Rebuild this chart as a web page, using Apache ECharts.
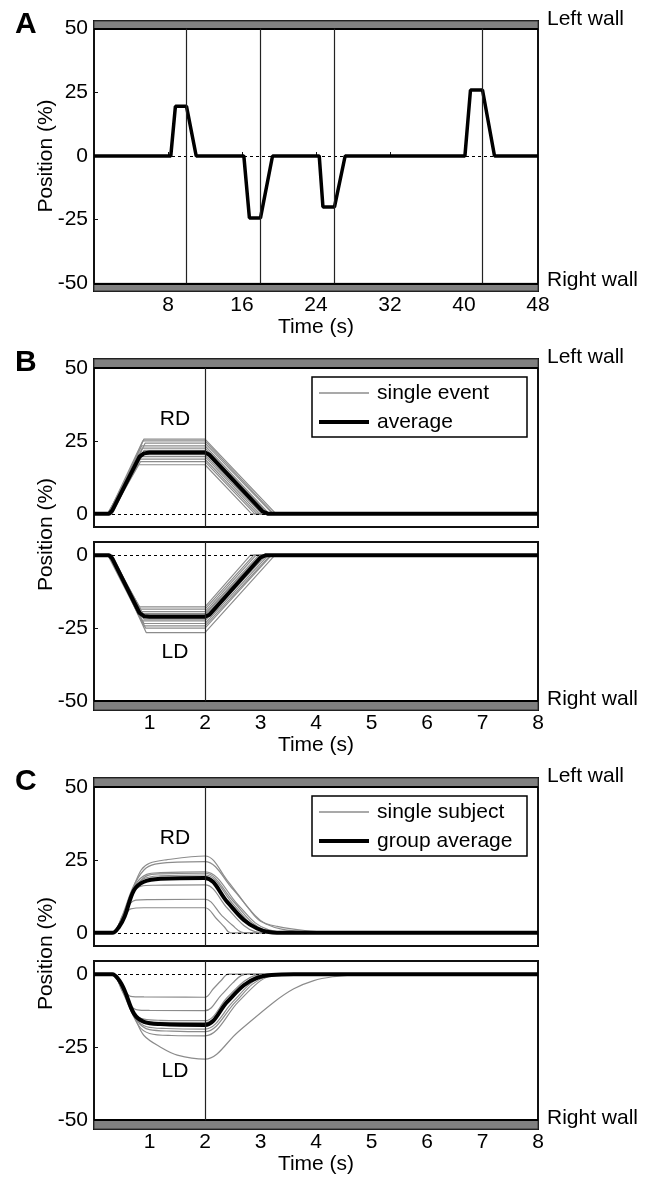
<!DOCTYPE html>
<html>
<head>
<meta charset="utf-8">
<script src="https://cdn.jsdelivr.net/npm/echarts@6.0.0/dist/echarts.min.js"></script>
<style>
html,body{margin:0;padding:0;background:#fff;}
#main{width:654px;height:1177px;}
</style>
</head>
<body>
<div id="main"></div>
<script>
// ---- data ----
// panel A: one trial, position trace
const timeA = [0, 8.3, 8.8, 10, 11.05, 16.2, 16.8, 18, 19.3, 24.35, 24.75, 26, 27.15, 40.1, 40.7, 42, 43.3, 48];
const posA  = [0, 0, 19.5, 19.5, 0, 0, -24.3, -24.3, 0, 0, -20, -20, 0, 0, 25.9, 25.9, 0, 0];
const eventsA = [10, 18, 26, 42];
const xTicksA = [8, 16, 24, 32, 40, 48];
const xTicksBC = [1, 2, 3, 4, 5, 6, 7, 8];
const yTicksFull = [-50, -25, 0, 25, 50];
const yTicksUp = [0, 25, 50];
const yTicksDown = [-50, -25, 0];
const cueTime = 2;

// panel B: single events + average
const rdSingleB = [
  [[0,0],[0.30,0],[0.90,25.6],[2,25.6],[3.28,0],[8,0]],
  [[0,0],[0.26,0],[0.88,25.0],[2,25.0],[3.24,0],[8,0]],
  [[0,0],[0.32,0],[0.92,24.2],[2,24.2],[3.22,0],[8,0]],
  [[0,0],[0.28,0],[0.86,23.3],[2,23.3],[3.16,0],[8,0]],
  [[0,0],[0.25,0],[0.87,22.5],[2,22.5],[3.14,0],[8,0]],
  [[0,0],[0.33,0],[0.90,21.7],[2,21.7],[3.10,0],[8,0]],
  [[0,0],[0.29,0],[0.88,21.0],[2,21.0],[3.06,0],[8,0]],
  [[0,0],[0.27,0],[0.85,20.3],[2,20.3],[3.02,0],[8,0]],
  [[0,0],[0.31,0],[0.86,19.6],[2,19.6],[2.98,0],[8,0]],
  [[0,0],[0.24,0],[0.82,18.7],[2,18.7],[2.94,0],[8,0]],
  [[0,0],[0.30,0],[0.84,17.9],[2,17.9],[2.90,0],[8,0]],
  [[0,0],[0.28,0],[0.80,16.8],[2,16.8],[2.84,0],[8,0]]
];
const rdAvgB = [[0,0],[0.27,0],[0.33,1.2],[0.82,19.6],[0.9,20.7],[1.0,21],[2,21],[2.08,20.2],[3.04,0.8],[3.14,0],[8,0]];
const ldSingleB = [
  [[0,0],[0.28,0],[0.82,-17.7],[2,-17.7],[2.82,0],[8,0]],
  [[0,0],[0.30,0],[0.84,-18.5],[2,-18.5],[2.88,0],[8,0]],
  [[0,0],[0.26,0],[0.84,-19.3],[2,-19.3],[2.92,0],[8,0]],
  [[0,0],[0.31,0],[0.88,-20.0],[2,-20.0],[2.97,0],[8,0]],
  [[0,0],[0.27,0],[0.86,-20.4],[2,-20.4],[3.00,0],[8,0]],
  [[0,0],[0.29,0],[0.88,-21.0],[2,-21.0],[3.04,0],[8,0]],
  [[0,0],[0.33,0],[0.90,-21.9],[2,-21.9],[3.06,0],[8,0]],
  [[0,0],[0.25,0],[0.86,-22.5],[2,-22.5],[3.10,0],[8,0]],
  [[0,0],[0.30,0],[0.90,-23.4],[2,-23.4],[3.14,0],[8,0]],
  [[0,0],[0.28,0],[0.90,-24.2],[2,-24.2],[3.18,0],[8,0]],
  [[0,0],[0.32,0],[0.93,-25.0],[2,-25.0],[3.20,0],[8,0]],
  [[0,0],[0.30,0],[0.94,-26.5],[2,-26.5],[3.26,0],[8,0]]
];
const ldAvgB = [[0,0],[0.27,0],[0.33,-1.2],[0.82,-19.8],[0.9,-20.9],[1.0,-21.1],[2,-21.1],[2.08,-20.4],[3.0,-0.8],[3.1,0],[8,0]];

// panel C: single subjects + group average
const rdSingleC = [
  [[0,0],[0.33,0],[0.45,2.5],[0.58,6.5],[0.66,8.2],[0.9,8.6],[2,8.6],[2.2,5],[2.35,2],[2.46,0],[8,0]],
  [[0,0],[0.33,0],[0.5,5],[0.65,10],[0.75,11.2],[1.0,11.4],[2,11.5],[2.3,6],[2.5,2.5],[2.65,0.3],[2.8,0],[8,0]],
  [[0,0],[0.33,0],[0.5,5],[0.7,13.5],[0.85,16],[1.1,16.3],[2,16.4],[2.4,8.5],[2.7,2.5],[2.9,0.4],[3.1,0],[8,0]],
  [[0,0],[0.33,0],[0.5,5],[0.7,14.5],[0.9,18.5],[1.2,19.5],[2,19.8],[2.5,10],[2.8,3.5],[3.0,1],[3.3,0],[8,0]],
  [[0,0],[0.33,0],[0.5,4.5],[0.75,15.5],[0.95,19.5],[1.2,20.2],[2,20.4],[2.5,11],[2.85,3.5],[3.1,0.8],[3.4,0],[8,0]],
  [[0,0],[0.33,0],[0.5,5],[0.75,16.5],[0.95,20],[1.2,20.6],[2,20.9],[2.6,9.5],[2.9,3.5],[3.15,1],[3.5,0],[8,0]],
  [[0,0],[0.33,0],[0.5,5.5],[0.7,15.5],[0.9,21.5],[1.1,23.5],[1.5,24.2],[2,24.4],[2.5,15],[2.9,6],[3.1,3],[3.4,1.2],[3.9,0.3],[4.3,0],[8,0]],
  [[0,0],[0.33,0],[0.5,5],[0.7,15],[0.85,21.5],[1.0,23.8],[1.3,25],[2,26.3],[2.4,18],[2.8,8],[3.0,4],[3.3,2.2],[3.8,0.8],[4.4,0.1],[4.7,0],[8,0]]
];
const rdAvgC = [[0,0],[0.33,0],[0.45,2],[0.55,5.5],[0.72,14.6],[0.9,17.5],[1.2,18.5],[2,18.8],[2.4,10.6],[2.7,4.4],[2.94,1.5],[3.15,0.3],[3.5,0],[8,0]];
const ldSingleC = [
  [[0,0],[0.33,0],[0.45,-2.5],[0.57,-6],[0.66,-7.6],[0.9,-7.8],[2,-7.9],[2.15,-5],[2.3,-2],[2.42,0],[8,0]],
  [[0,0],[0.33,0],[0.5,-5],[0.65,-10.5],[0.78,-12.2],[1.0,-12.4],[2,-12.5],[2.3,-7],[2.5,-3],[2.65,-0.5],[2.8,0],[8,0]],
  [[0,0],[0.33,0],[0.5,-5],[0.72,-13.5],[0.9,-15.4],[1.2,-15.8],[2,-15.9],[2.4,-8],[2.7,-2.5],[2.9,-0.4],[3.1,0],[8,0]],
  [[0,0],[0.33,0],[0.5,-5],[0.74,-14.5],[0.92,-16.2],[1.2,-16.5],[2,-16.6],[2.45,-8],[2.75,-2.8],[2.95,-0.6],[3.2,0],[8,0]],
  [[0,0],[0.33,0],[0.5,-5],[0.75,-15],[0.95,-18],[1.3,-18.6],[2,-18.8],[2.5,-9.5],[2.8,-3.5],[3.0,-1],[3.3,0],[8,0]],
  [[0,0],[0.33,0],[0.5,-5],[0.78,-16],[1.0,-19],[1.4,-19.5],[2,-19.7],[2.55,-9.5],[2.85,-3.5],[3.1,-0.8],[3.4,0],[8,0]],
  [[0,0],[0.33,0],[0.5,-5.5],[0.8,-17.5],[1.0,-20.3],[1.4,-21],[2,-21.1],[2.6,-9.5],[2.95,-3],[3.15,-0.8],[3.5,0],[8,0]],
  [[0,0],[0.33,0],[0.5,-5],[0.75,-15.5],[0.9,-21],[1.2,-25],[1.5,-27.7],[2,-29.1],[2.6,-19.7],[3.24,-9.6],[3.6,-5],[3.96,-2.2],[4.3,-0.9],[4.7,-0.2],[5,0],[8,0]]
];
const ldAvgC = [[0,0],[0.33,0],[0.45,-2],[0.55,-5.5],[0.72,-13.5],[0.9,-16.3],[1.2,-17.1],[2,-17.4],[2.4,-9.5],[2.7,-3.8],[2.95,-1.2],[3.2,-0.3],[3.6,0],[8,0]];

// ---- style / layout ----
const FONT = 'Liberation Sans, Arial, sans-serif';
const FS = 21;
const GRAY = '#8c8c8c';
const INK = '#111';
const WALL = 3; // wall thickness, in axis units

const L = 94, W = 444;
const grids = [
  {top: 21, height: 270},   // A
  {top: 359, height: 168},  // B RD
  {top: 542, height: 168},  // B LD
  {top: 778, height: 168},  // C RD
  {top: 961, height: 168}   // C LD
];
const yRanges = [[-50 - WALL, 50 + WALL], [-4.5, 50 + WALL], [-50 - WALL, 4.5], [-4.5, 50 + WALL], [-50 - WALL, 4.5]];
const yLabels = [yTicksFull, yTicksUp, yTicksDown, yTicksUp, yTicksDown];

function pxPerUnit(i) { return grids[i].height / (yRanges[i][1] - yRanges[i][0]); }

function makeX(i, max, labels, ticks) {
  const bottom = labels !== null;
  return {
    type: 'value', gridIndex: i, min: 0, max: max,
    offset: bottom ? -WALL * pxPerUnit(i) : 0,
    axisLine: {show: false},
    splitLine: {show: false},
    axisTick: {show: !!ticks, inside: true, length: 4, customValues: ticks || [], lineStyle: {color: INK}},
    axisLabel: {show: bottom, customValues: labels || [], margin: 11, color: '#000', fontSize: FS, fontFamily: FONT},
    name: bottom ? 'Time (s)' : '', nameLocation: 'middle', nameGap: 33,
    nameTextStyle: {color: '#000', fontSize: FS, fontFamily: FONT}
  };
}
function makeY(i) {
  return {
    type: 'value', gridIndex: i, min: yRanges[i][0], max: yRanges[i][1],
    axisLine: {show: false},
    splitLine: {show: false},
    axisTick: {show: true, inside: true, length: 4, customValues: yLabels[i], lineStyle: {color: INK}},
    axisLabel: {customValues: yLabels[i], margin: 6, color: '#000', fontSize: FS, fontFamily: FONT}
  };
}

// walls, edge lines, zero line and cue lines for one sub-plot
function markers(walls, edges, vTimes, vFrom, vTo) {
  const lines = [{yAxis: 0, lineStyle: {type: [3, 3], width: 1, color: '#000'}}];
  edges.forEach(v => lines.push({yAxis: v, lineStyle: {type: 'solid', width: 2, color: '#000'}}));
  vTimes.forEach(t => lines.push([{coord: [t, vFrom], lineStyle: {type: 'solid', width: 1.2, color: '#222'}}, {coord: [t, vTo]}]));
  return {
    markLine: {silent: true, symbol: 'none', animation: false, label: {show: false},
      lineStyle: {type: 'solid', color: '#000', width: 1}, emphasis: {disabled: true}, data: lines},
    markArea: {silent: true, animation: false,
      itemStyle: {color: '#808080', borderColor: '#333', borderWidth: 1},
      data: walls.map(r => [{yAxis: r[0]}, {yAxis: r[1]}])}
  };
}

const series = [];
function grayLines(list, gi, name) {
  list.forEach(d => series.push({
    name: name, type: 'line', xAxisIndex: gi, yAxisIndex: gi, data: d,
    symbol: 'none', silent: true, smooth: gi >= 3 ? 0.35 : false,
    lineStyle: {color: GRAY, width: 1.2}, z: 2
  }));
}
function avgLine(d, gi, name, mk) {
  series.push(Object.assign({
    name: name, type: 'line', xAxisIndex: gi, yAxisIndex: gi, data: d,
    symbol: 'none', silent: true, smooth: gi >= 3 ? 0.35 : false,
    lineStyle: {color: '#000', width: 4}, z: 3
  }, mk));
}

// A
avgLine(timeA.map((t, k) => [t, posA[k]]), 0, 'trace',
  markers([[50, 50 + WALL], [-50 - WALL, -50]], [50, -50], eventsA, -50, 50));
series[0].lineStyle.width = 3.5;
// B
grayLines(rdSingleB, 1, 'single event');
avgLine(rdAvgB, 1, 'average', markers([[50, 50 + WALL]], [50], [cueTime], -4.5, 50));
grayLines(ldSingleB, 2, 'single event');
avgLine(ldAvgB, 2, 'average', markers([[-50 - WALL, -50]], [-50], [cueTime], -50, 4.5));
// C
grayLines(rdSingleC, 3, 'single subject');
avgLine(rdAvgC, 3, 'group average', markers([[50, 50 + WALL]], [50], [cueTime], -4.5, 50));
grayLines(ldSingleC, 4, 'single subject');
avgLine(ldAvgC, 4, 'group average', markers([[-50 - WALL, -50]], [-50], [cueTime], -50, 4.5));

// ---- text, legend boxes ----
const graphic = [];
function txt(s, x, y, opt) {
  graphic.push(Object.assign({type: 'text', x: x, y: y, silent: true,
    style: {text: s, font: FS + 'px ' + FONT, fill: '#000', align: 'left', verticalAlign: 'middle'}}, opt || {}));
}
function panelText(letter, gUp, gDown) {
  const top = grids[gUp].top;
  const bottom = grids[gDown].top + grids[gDown].height;
  graphic.push({type: 'text', x: 15, y: top + 4, silent: true,
    style: {text: letter, font: 'bold 30px ' + FONT, fill: '#000', align: 'left', verticalAlign: 'middle'}});
  txt('Left wall', L + W + 9, top - 2);
  txt('Right wall', L + W + 9, bottom - 11);
  const m = WALL * pxPerUnit(gUp);
  graphic.push({type: 'text', x: 46, y: (top + bottom) / 2, rotation: Math.PI / 2, silent: true,
    style: {text: 'Position (%)', font: FS + 'px ' + FONT, fill: '#000', align: 'center', verticalAlign: 'middle'}});
}
function legendBox(gi, a, b) {
  const top = grids[gi].top;
  graphic.push({type: 'rect', shape: {x: 312, y: top + 18, width: 215, height: 60}, silent: true,
    style: {fill: '#fff', stroke: '#000', lineWidth: 1.5}, z: 10});
  graphic.push({type: 'line', shape: {x1: 319, y1: top + 34, x2: 369, y2: top + 34}, silent: true,
    style: {stroke: GRAY, lineWidth: 1.3}, z: 11});
  graphic.push({type: 'line', shape: {x1: 319, y1: top + 63, x2: 369, y2: top + 63}, silent: true,
    style: {stroke: '#000', lineWidth: 4}, z: 11});
  txt(a, 377, top + 34, {z: 11});
  txt(b, 377, top + 63, {z: 11});
}
panelText('A', 0, 0);
panelText('B', 1, 2);
panelText('C', 3, 4);
legendBox(1, 'single event', 'average');
legendBox(3, 'single subject', 'group average');
[1, 3].forEach(gi => {
  txt('RD', 175, grids[gi].top + 60.5, {style: {text: 'RD', font: FS + 'px ' + FONT, fill: '#000', align: 'center', verticalAlign: 'middle'}});
  txt('LD', 175, grids[gi + 1].top + 110.5, {style: {text: 'LD', font: FS + 'px ' + FONT, fill: '#000', align: 'center', verticalAlign: 'middle'}});
});

const chart = echarts.init(document.getElementById('main'), null, {renderer: 'canvas'});
chart.setOption({
  backgroundColor: '#fff',
  animation: false,
  grid: grids.map(g => ({left: L, width: W, top: g.top, height: g.height, show: true, borderColor: INK, borderWidth: 2, backgroundColor: 'transparent'})),
  xAxis: [
    makeX(0, 48, xTicksA, xTicksA),
    makeX(1, 8, null, null),
    makeX(2, 8, xTicksBC, null),
    makeX(3, 8, null, null),
    makeX(4, 8, xTicksBC, null)
  ],
  yAxis: [0, 1, 2, 3, 4].map(makeY),
  series: series,
  graphic: graphic
});
</script>
</body>
</html>
